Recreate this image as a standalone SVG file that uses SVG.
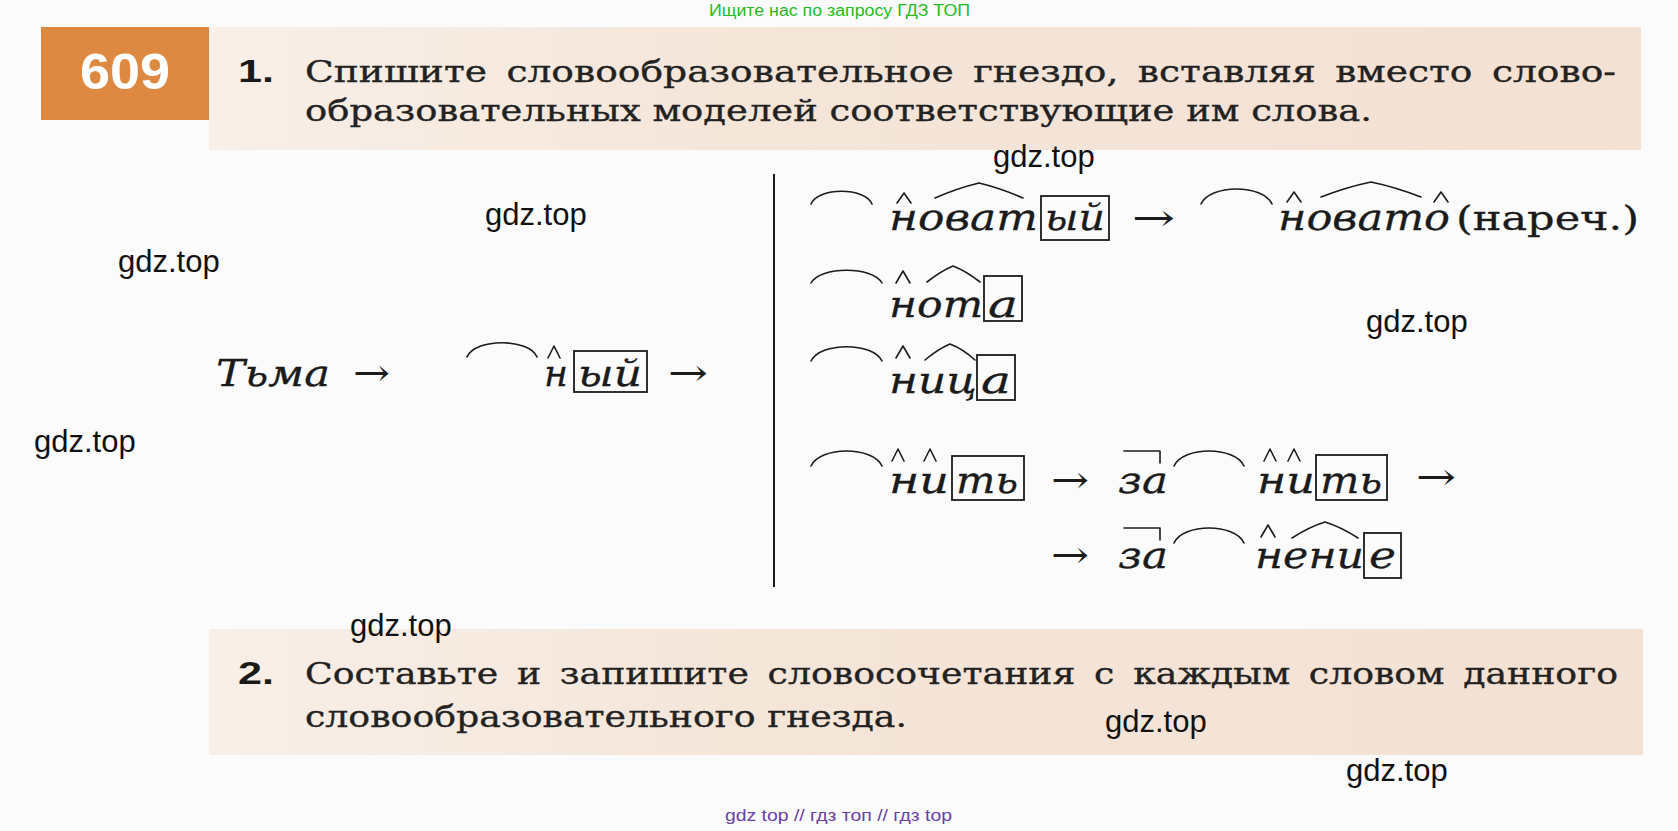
<svg xmlns="http://www.w3.org/2000/svg" width="1678" height="831" viewBox="0 0 1678 831">
<defs>
<linearGradient id="band" x1="0" y1="0" x2="1" y2="0">
<stop offset="0" stop-color="#F8EFE8"/>
<stop offset="0.35" stop-color="#F5E6DA"/>
<stop offset="1" stop-color="#F3E1D3"/>
</linearGradient>
<style>
.it{font-family:"DejaVu Serif","Liberation Serif",serif;font-style:italic;font-size:38px;fill:#1b1b1b;stroke:#1b1b1b;stroke-width:0.3}
.rg{font-family:"DejaVu Serif","Liberation Serif",serif;font-size:30px;fill:#222;stroke:#222;stroke-width:0.35}
.num{font-family:"Liberation Sans",Arial,sans-serif;font-weight:bold;font-size:32px;fill:#1a1a1a}
.wm{font-family:"Liberation Sans",Arial,sans-serif;font-size:31px;fill:#111}
.mk{fill:none;stroke:#1b1b1b;stroke-width:1.6;stroke-linecap:round;stroke-linejoin:round}
.bx{fill:none;stroke:#1b1b1b;stroke-width:1.8}
.ar{font-family:"DejaVu Serif","Liberation Serif",serif;font-size:38px;fill:#1b1b1b}
</style>
</defs>
<rect x="0" y="0" width="1678" height="831" fill="#FBFBFB"/>

<g id="top-note">
<text x="709" y="16" font-family="Liberation Sans, Arial, sans-serif" font-size="16" fill="#22BB22" textLength="261" lengthAdjust="spacingAndGlyphs">Ищите нас по запросу ГДЗ ТОП</text>
</g>

<g id="task1">
<rect x="209" y="27" width="1432" height="123" fill="url(#band)"/>
<rect x="41" y="27" width="168" height="93" fill="#DE8942"/>
<text x="125" y="89" text-anchor="middle" font-family="Liberation Sans, Arial, sans-serif" font-weight="bold" font-size="50" fill="#FFFFFF" textLength="90" lengthAdjust="spacingAndGlyphs">609</text>
<text class="num" x="238" y="82" textLength="36" lengthAdjust="spacingAndGlyphs">1.</text>
<text class="rg" x="305" y="82" word-spacing="6" textLength="1311" lengthAdjust="spacingAndGlyphs">Спишите словообразовательное гнездо, вставляя вместо слово-</text>
<text class="rg" x="305" y="121" textLength="1067" lengthAdjust="spacingAndGlyphs">образовательных моделей соответствующие им слова.</text>
</g>

<g id="task2">
<rect x="209" y="629" width="1434" height="126" fill="url(#band)"/>
<text class="num" x="238" y="684" textLength="36" lengthAdjust="spacingAndGlyphs">2.</text>
<text class="rg" x="305" y="684" word-spacing="6" textLength="1313" lengthAdjust="spacingAndGlyphs">Составьте и запишите словосочетания с каждым словом данного</text>
<text class="rg" x="305" y="727" textLength="602" lengthAdjust="spacingAndGlyphs">словообразовательного гнезда.</text>
</g>

<line id="divider" x1="774" y1="174" x2="774" y2="587" stroke="#1b1b1b" stroke-width="2"/>

<g id="word-tma">
<text class="it" x="216" y="386" textLength="114" lengthAdjust="spacingAndGlyphs">Тьма</text>
</g>

<g id="model-nyj">
<path class="mk" d="M467,357 C475,338 529,338 537,357"/>
<path class="mk" d="M548,358 L554,346 L560,358"/>
<text class="it" x="544" y="386" textLength="24" lengthAdjust="spacingAndGlyphs">н</text>
<rect class="bx" x="574" y="351" width="73" height="41"/>
<text class="it" x="578" y="386" textLength="64" lengthAdjust="spacingAndGlyphs">ый</text>
</g>

<g id="model-novatyj">
<path class="mk" d="M811,204 C818,187 865,187 872,204"/>
<path class="mk" d="M897,203 L904,193 L911,203"/>
<path class="mk" d="M935,198 Q958,188 979,183 Q1000,188 1023,198"/>
<text class="it" x="889" y="230" textLength="149" lengthAdjust="spacingAndGlyphs">новат</text>
<rect class="bx" x="1041" y="196" width="68" height="44"/>
<text class="it" x="1045" y="230" textLength="60" lengthAdjust="spacingAndGlyphs">ый</text>
</g>

<g id="model-novato">
<path class="mk" d="M1201,204 C1210,184 1263,184 1272,204"/>
<path class="mk" d="M1287,202 L1294,192 L1301,202"/>
<path class="mk" d="M1321,197 Q1347,187 1371,182 Q1395,187 1421,197"/>
<path class="mk" d="M1434,202 L1441,192 L1448,202"/>
<text class="it" x="1278" y="230" textLength="172" lengthAdjust="spacingAndGlyphs">новато</text>
<text x="1456" y="230" font-family="DejaVu Serif, Liberation Serif, serif" font-size="34" fill="#1b1b1b" stroke="#1b1b1b" stroke-width="0.3" textLength="183" lengthAdjust="spacingAndGlyphs">(нареч.)</text>
</g>

<g id="model-nota">
<path class="mk" d="M811,283 C820,266 873,266 882,283"/>
<path class="mk" d="M896,283 L903,271 L910,283"/>
<path class="mk" d="M927,282 Q941,271 953,266 Q966,271 980,282"/>
<text class="it" x="889" y="317" textLength="94" lengthAdjust="spacingAndGlyphs">нот</text>
<rect class="bx" x="984" y="276" width="38" height="45"/>
<text class="it" x="988" y="317" textLength="30" lengthAdjust="spacingAndGlyphs">а</text>
</g>

<g id="model-nica">
<path class="mk" d="M811,361 C820,342 873,342 882,361"/>
<path class="mk" d="M896,358 L903,346 L910,358"/>
<path class="mk" d="M925,360 Q938,349 950,344 Q963,349 975,360"/>
<text class="it" x="889" y="393" textLength="88" lengthAdjust="spacingAndGlyphs">ниц</text>
<rect class="bx" x="977" y="355" width="38" height="45"/>
<text class="it" x="981" y="393" textLength="30" lengthAdjust="spacingAndGlyphs">а</text>
</g>

<g id="model-nit">
<path class="mk" d="M811,466 C820,446 873,446 882,466"/>
<path class="mk" d="M892,461 L898,449 L904,461"/>
<path class="mk" d="M924,461 L930,449 L936,461"/>
<text class="it" x="889" y="493" textLength="60" lengthAdjust="spacingAndGlyphs">ни</text>
<rect class="bx" x="952" y="456" width="72" height="44"/>
<text class="it" x="956" y="493" textLength="62" lengthAdjust="spacingAndGlyphs">ть</text>
</g>

<g id="model-zanit">
<path class="mk" d="M1124,451 H1160 V463"/>
<text class="it" x="1118" y="493" textLength="50" lengthAdjust="spacingAndGlyphs">за</text>
<path class="mk" d="M1174,466 C1183,446 1235,446 1244,466"/>
<path class="mk" d="M1264,461 L1270,449 L1276,461"/>
<path class="mk" d="M1288,461 L1294,449 L1300,461"/>
<text class="it" x="1257" y="493" textLength="58" lengthAdjust="spacingAndGlyphs">ни</text>
<rect class="bx" x="1316" y="455" width="71" height="45"/>
<text class="it" x="1320" y="493" textLength="62" lengthAdjust="spacingAndGlyphs">ть</text>
</g>

<g id="model-zanenie">
<path class="mk" d="M1124,528 H1160 V540"/>
<text class="it" x="1118" y="568" textLength="50" lengthAdjust="spacingAndGlyphs">за</text>
<path class="mk" d="M1174,543 C1183,523 1235,523 1244,543"/>
<path class="mk" d="M1261,537 L1268,525 L1275,537"/>
<path class="mk" d="M1292,538 Q1309,527 1325,522 Q1341,527 1358,538"/>
<text class="it" x="1255" y="568" textLength="109" lengthAdjust="spacingAndGlyphs">нени</text>
<rect class="bx" x="1364" y="533" width="37" height="45"/>
<text class="it" x="1369" y="568" textLength="27" lengthAdjust="spacingAndGlyphs">е</text>
</g>

<g id="connectors">
<text class="ar" x="353" y="386" textLength="37" lengthAdjust="spacingAndGlyphs">→</text>
<text class="ar" x="668" y="386" textLength="40" lengthAdjust="spacingAndGlyphs">→</text>
<text class="ar" x="1132" y="231" textLength="43" lengthAdjust="spacingAndGlyphs">→</text>
<text class="ar" x="1051" y="493" textLength="38" lengthAdjust="spacingAndGlyphs">→</text>
<text class="ar" x="1416" y="490" textLength="40" lengthAdjust="spacingAndGlyphs">→</text>
<text class="ar" x="1051" y="568" textLength="38" lengthAdjust="spacingAndGlyphs">→</text>
</g>

<g id="watermarks">
<text class="wm" x="993" y="167">gdz.top</text>
<text class="wm" x="485" y="225">gdz.top</text>
<text class="wm" x="118" y="272">gdz.top</text>
<text class="wm" x="1366" y="332">gdz.top</text>
<text class="wm" x="34" y="452">gdz.top</text>
<text class="wm" x="350" y="636">gdz.top</text>
<text class="wm" x="1105" y="732">gdz.top</text>
<text class="wm" x="1346" y="781">gdz.top</text>
</g>

<g id="bottom-note">
<text x="725" y="821" font-family="Liberation Sans, Arial, sans-serif" font-size="16" fill="#6A3FA6" textLength="227" lengthAdjust="spacingAndGlyphs">gdz top // гдз топ // гдз top</text>
</g>
</svg>
